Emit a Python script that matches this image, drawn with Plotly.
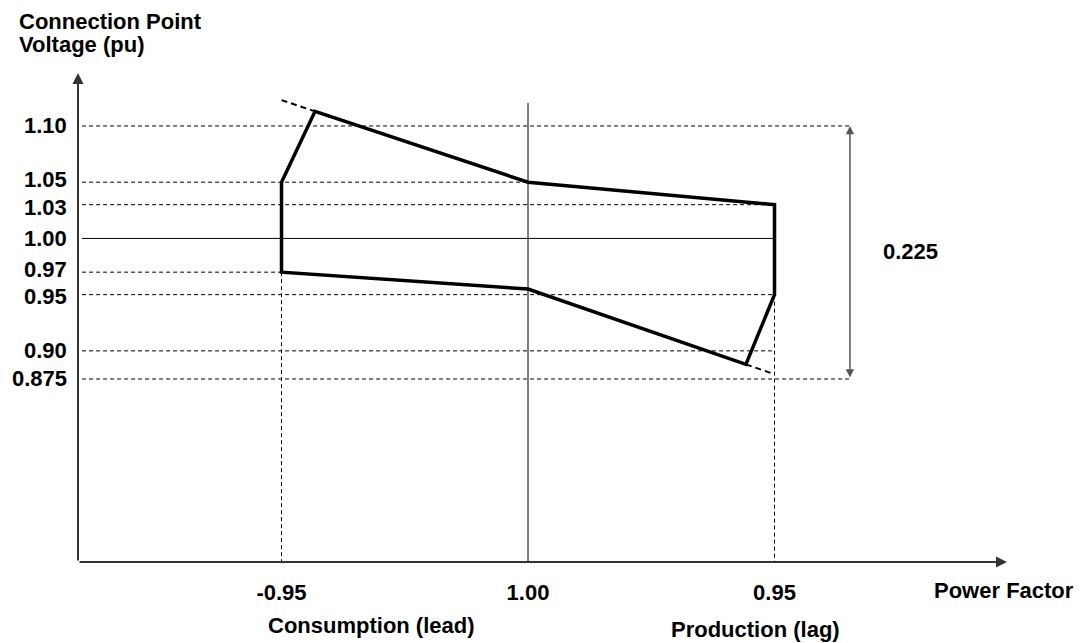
import plotly.graph_objects as go

# ---------------- data ----------------
pf_pos = [-1, 0, 1]
pf_labels = ["-0.95", "1.00", "0.95"]

v_ticks = [1.10, 1.05, 1.03, 1.00, 0.97, 0.95, 0.90, 0.875]
v_labels = ["1.10", "1.05", "1.03", "1.00", "0.97", "0.95", "0.90", "0.875"]

# operating envelope (power-factor position, voltage pu)
env_x = [-1, -0.864, 0, 1, 1, 0.884, 0, -1, -1]
env_y = [1.05, 1.113, 1.05, 1.03, 0.95, 0.888, 0.955, 0.97, 1.05]

# dashed extensions of the sloping envelope edges
ext_top_x = [-1, -0.864]
ext_top_y = [1.123, 1.113]
ext_bot_x = [0.884, 0.99]
ext_bot_y = [0.888, 0.880]

# dashed reference levels and where they stop on the PF axis
guide_levels = [1.10, 1.05, 1.03, 0.97, 0.95, 0.90, 0.875]
guide_ends = [1.306, 0, 1, -1, 1, 1, 1.306]

span_top, span_bot = 1.10, 0.875
span_label = "0.225"

# ---------------- styling / geometry ----------------
X0, X1 = -1.8256, 1.9432
Y0, Y1 = 0.71225, 1.14711
XL = -1.809   # start of guide lines just right of the y axis
XSPAN = 1.306
# small vertical nudges (px) for crowded tick labels
label_nudge = [0, 2.5, -2.5, 0, 3, -2, 0, 0]

FONT = "Liberation Sans"
fnt = dict(family=FONT, size=22, color="black", weight="bold")
dash = "4px,3px"

fig = go.Figure()

# dashed horizontal guides
for lv, xe in zip(guide_levels, guide_ends):
    fig.add_trace(go.Scatter(x=[XL, xe], y=[lv, lv], mode="lines",
                             line=dict(color="black", width=1, dash=dash),
                             hoverinfo="skip"))
# dashed vertical guides
fig.add_trace(go.Scatter(x=[-1, -1], y=[0.97, Y0], mode="lines",
                         line=dict(color="black", width=1, dash=dash), hoverinfo="skip"))
fig.add_trace(go.Scatter(x=[1, 1], y=[0.95, Y0], mode="lines",
                         line=dict(color="black", width=1, dash=dash), hoverinfo="skip"))
# 1.00 pu solid line
fig.add_trace(go.Scatter(x=[XL, 1], y=[1.00, 1.00], mode="lines",
                         line=dict(color="black", width=1), hoverinfo="skip"))
# unity power factor vertical line
fig.add_trace(go.Scatter(x=[0, 0], y=[Y0, 1.1204], mode="lines",
                         line=dict(color="#555555", width=1.5), hoverinfo="skip"))
# dashed extensions
fig.add_trace(go.Scatter(x=ext_top_x, y=ext_top_y, mode="lines",
                         line=dict(color="black", width=2, dash="6px,4px"), hoverinfo="skip"))
fig.add_trace(go.Scatter(x=ext_bot_x, y=ext_bot_y, mode="lines",
                         line=dict(color="black", width=2, dash="6px,4px"), hoverinfo="skip"))
# envelope
fig.add_trace(go.Scatter(x=env_x, y=env_y, mode="lines",
                         line=dict(color="black", width=3.5), hoverinfo="skip"))

ann = []
# voltage tick labels
for v, lab, dy in zip(v_ticks, v_labels, label_nudge):
    ann.append(dict(x=-0.0097, y=v, xref="paper", yref="y", xanchor="right",
                    yanchor="middle", yshift=dy, text=lab, showarrow=False, font=fnt))
# axes arrows
ann.append(dict(x=X1, y=Y0, ax=X0, ay=Y0, xref="x", yref="y", axref="x", ayref="y",
                text="", showarrow=True, arrowhead=2, arrowsize=1.1, arrowwidth=2,
                arrowcolor="#333333"))
ann.append(dict(x=X0, y=Y1, ax=X0, ay=Y0, xref="x", yref="y", axref="x", ayref="y",
                text="", showarrow=True, arrowhead=2, arrowsize=1.1, arrowwidth=2,
                arrowcolor="#333333"))
# span double arrow
ann.append(dict(x=XSPAN, y=span_top, ax=XSPAN, ay=span_bot, xref="x", yref="y",
                axref="x", ayref="y", text="", showarrow=True, arrowhead=2,
                arrowside="end+start", arrowsize=1.1, arrowwidth=1.5,
                arrowcolor="#555555"))
ann.append(dict(x=1.552, y=(span_top + span_bot) / 2 + 0.001, xref="x", yref="y",
                xanchor="center", yanchor="middle",
                text=span_label, showarrow=False, font=fnt))
# titles (paper coordinates, outside the plotting area)
ann.append(dict(x=-0.0657, y=1.1063, xref="paper", yref="paper", xanchor="left",
                yanchor="middle", text="Connection Point", showarrow=False, font=fnt))
ann.append(dict(x=-0.0657, y=1.0583, xref="paper", yref="paper", xanchor="left",
                yanchor="middle", text="Voltage (pu)", showarrow=False, font=fnt))
ann.append(dict(x=0.9973, y=-0.0593, xref="paper", yref="paper", xanchor="center",
                yanchor="middle", text="Power Factor", showarrow=False, font=fnt))
ann.append(dict(x=0.3159, y=-0.1299, xref="paper", yref="paper", xanchor="center",
                yanchor="middle", text="Consumption (lead)", showarrow=False, font=fnt))
ann.append(dict(x=0.7298, y=-0.138, xref="paper", yref="paper", xanchor="center",
                yanchor="middle", text="Production (lag)", showarrow=False, font=fnt))

fig.update_layout(
    width=1081, height=635,
    margin=dict(l=70, r=82, t=65, b=81, autoexpand=False),
    paper_bgcolor="white", plot_bgcolor="white",
    showlegend=False,
    annotations=ann,
    xaxis=dict(range=[X0, X1], showgrid=False, zeroline=False, showline=False,
               tickvals=pf_pos, ticktext=pf_labels, ticks="",
               tickfont=fnt, ticklabelstandoff=15, fixedrange=True),
    yaxis=dict(range=[Y0, Y1], showgrid=False, zeroline=False, showline=False,
               tickvals=v_ticks, showticklabels=False, ticks="", fixedrange=True),
)

fig.write_html("out.html")
